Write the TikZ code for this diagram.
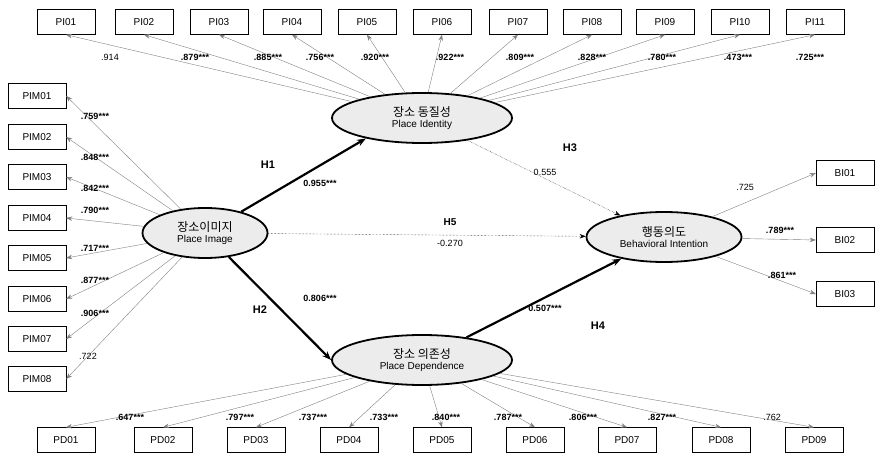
\documentclass[tikz,border=0pt]{standalone}
\usepackage{fontspec}
\setmainfont{Liberation Sans}
\newfontfamily\kr{Noto Sans CJK KR}
\usetikzlibrary{shapes.geometric,arrows.meta}
\begin{document}
\begin{tikzpicture}[x=1pt,y=-1pt,
  ind/.style={draw,minimum width=58pt,minimum height=25pt,font=\fontsize{10}{11}\selectfont,inner sep=0pt},
  lat/.style={draw,line width=1.8pt,ellipse,fill=gray!15,inner sep=0pt,align=center},
  ld/.style={draw=gray,-{Stealth[length=6pt]}},
  lb/.style={font=\fontsize{9}{10}\selectfont\bfseries},
  ln/.style={font=\fontsize{9}{10}\selectfont},
  st/.style={line width=2.2pt,-{Stealth[length=9pt]}}]
\useasboundingbox (0,0) rectangle (886,473);
\node[lat,minimum width=180pt,minimum height=50pt] (PI) at (422,118) {{\kr\fontsize{12}{13}\selectfont 장소 동질성}\\[-1pt]{\fontsize{10}{11}\selectfont Place Identity}};
\node[lat,minimum width=125pt,minimum height=50pt] (PM) at (205,233) {{\kr\fontsize{12}{13}\selectfont 장소이미지}\\[-1pt]{\fontsize{10}{11}\selectfont Place Image}};
\node[lat,minimum width=180pt,minimum height=50pt] (PD) at (422,360) {{\kr\fontsize{12}{13}\selectfont 장소 의존성}\\[-1pt]{\fontsize{10}{11}\selectfont Place Dependence}};
\node[lat,minimum width=155pt,minimum height=50pt] (BI) at (664,237) {{\kr\fontsize{12}{13}\selectfont 행동의도}\\[-1pt]{\fontsize{10}{11}\selectfont Behavioral Intention}};
\foreach \n/\x in {01/66,02/144,03/219,04/292,05/367,06/442,07/518,08/592,09/665,10/740,11/815}{
  \node[ind] (PI\n) at (\x,22) {PI\n};
  \draw[ld] (PI) -- (PI\n.south);}
\foreach \n/\y in {01/96,02/137,03/177,04/218,05/258,06/299,07/339,08/379}{
  \node[ind] (PIM\n) at (37,\y) {PIM\n};
  \draw[ld] (PM) -- (PIM\n.east);}
\foreach \n/\x in {01/66,02/163,03/256,04/349,05/442,06/535,07/627,08/721,09/814}{
  \node[ind] (PD\n) at (\x,440) {PD\n};
  \draw[ld] (PD) -- (PD\n.north);}
\foreach \n/\y in {01/173,02/240,03/294}{
  \node[ind] (BI\n) at (845,\y) {BI\n};
  \draw[ld] (BI) -- (BI\n.west);}
\node[ln] at (110,57) {.914};
\foreach \t/\x in {.879/195,.885/268,.756/320,.920/375,.922/450,.809/520,.828/592,.780/662,.473/738,.725/810}
  \node[lb] at (\x,57) {\t***};
\foreach \t/\y in {.759/116,.848/157,.842/188,.790/210,.717/248,.877/280,.906/313}
  \node[lb] at (95,\y) {\t***};
\node[ln] at (88,356) {.722};
\foreach \t/\x in {.647/130,.797/240,.737/313,.733/384,.840/446,.787/508,.806/583,.827/662}
  \node[lb] at (\x,417) {\t***};
\node[ln] at (772,417) {.762};
\node[ln] at (745,187) {.725};
\node[lb] at (780,230) {.789***};
\node[lb] at (782,275) {.861***};
\draw[st] (PM) -- (PI.200);
\draw[st] (PM) -- (PD.west);
\draw[st] (PD) -- (BI);
\draw[densely dotted,-{Stealth[length=6pt]}] (PI) -- (BI);
\draw[densely dotted,-{Stealth[length=6pt]}] (PM) -- (BI);
\node[font=\fontsize{11}{12}\selectfont\bfseries] at (268,165) {H1};
\node[lb] at (320,183) {0.955***};
\node[font=\fontsize{11}{12}\selectfont\bfseries] at (260,310) {H2};
\node[lb] at (320,298) {0.806***};
\node[font=\fontsize{11}{12}\selectfont\bfseries] at (570,148) {H3};
\node[ln] at (545,172) {0.555};
\node[font=\fontsize{10}{11}\selectfont\bfseries] at (450,222) {H5};
\node[ln] at (450,243) {-0.270};
\node[lb] at (545,308) {0.507***};
\node[font=\fontsize{11}{12}\selectfont\bfseries] at (598,326) {H4};
\end{tikzpicture}
\end{document}
